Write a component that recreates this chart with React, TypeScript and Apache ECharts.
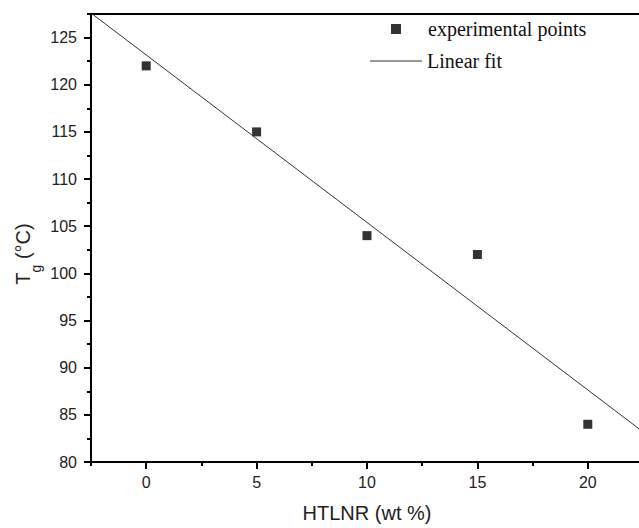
import React, { useEffect, useRef } from "react";
import * as echarts from "echarts";

const xMajorTicks = [0, 5, 10, 15, 20];
const xMinorTicks = [-2.5, 2.5, 7.5, 12.5, 17.5, 22.5];
const yMajorTicks = [80, 85, 90, 95, 100, 105, 110, 115, 120, 125];
const yMinorTicks = [82.5, 87.5, 92.5, 97.5, 102.5, 107.5, 112.5, 117.5, 122.5, 127.5];

const htlnr = [0, 5, 10, 15, 20];
const tg = [122, 115, 104, 102, 84];

const fitX = [-2.5, 22.5];
const fitY = [127.6, 83.2];

const sans = "Liberation Sans, Arial, sans-serif";
const serif = "Liberation Serif, Times New Roman, serif";

export default function App() {
  const ref = useRef<HTMLDivElement>(null);
  useEffect(() => {
    if (!ref.current) return;
    const chart = echarts.init(ref.current, undefined, { renderer: "svg" });
    const axisLine = { show: true, onZero: false, lineStyle: { color: "#000", width: 2 } };
    chart.setOption({
      animation: false,
      backgroundColor: "#fff",
      grid: {
        left: 91,
        top: 14,
        right: 2,
        bottom: 64,
        show: true,
        borderColor: "#000",
        borderWidth: 2,
        backgroundColor: "transparent",
      },
      legend: [
        {
          data: ["experimental points"],
          left: 391,
          top: 19,
          padding: 0,
          itemWidth: 10,
          itemHeight: 10,
          textStyle: { fontFamily: serif, fontSize: 20, color: "#111", padding: [0, 0, 0, 22] },
        },
        {
          data: [{ name: "Linear fit", icon: "rect" }],
          left: 370,
          top: 51,
          padding: 0,
          itemWidth: 52,
          itemHeight: 1,
          itemStyle: { color: "#333" },
          textStyle: { fontFamily: serif, fontSize: 20, color: "#111" },
        },
      ],
      xAxis: [
        {
          type: "value",
          min: -2.5,
          max: 22.5,
          position: "bottom",
          axisLine,
          splitLine: { show: false },
          axisTick: { show: true, length: 7, customValues: xMajorTicks, lineStyle: { color: "#000", width: 2 } },
          axisLabel: { customValues: xMajorTicks, margin: 12, fontSize: 16, fontFamily: sans, color: "#222" },
          name: "HTLNR (wt %)",
          nameLocation: "middle",
          nameGap: 41,
          nameTextStyle: { fontSize: 20, fontFamily: sans, color: "#222" },
        },
        {
          type: "value",
          min: -2.5,
          max: 22.5,
          position: "bottom",
          axisLine: { show: false, onZero: false },
          splitLine: { show: false },
          axisTick: { show: true, length: 4, customValues: xMinorTicks, lineStyle: { color: "#000", width: 2 } },
          axisLabel: { show: false },
        },
      ],
      yAxis: [
        {
          type: "value",
          min: 80,
          max: 127.5,
          position: "left",
          axisLine,
          splitLine: { show: false },
          axisTick: { show: true, length: 7, customValues: yMajorTicks, lineStyle: { color: "#000", width: 2 } },
          axisLabel: { customValues: yMajorTicks, margin: 14, fontSize: 16, fontFamily: sans, color: "#222" },
        },
        {
          type: "value",
          min: 80,
          max: 127.5,
          position: "left",
          axisLine: { show: false, onZero: false },
          splitLine: { show: false },
          axisTick: { show: true, length: 4, customValues: yMinorTicks, lineStyle: { color: "#000", width: 2 } },
          axisLabel: { show: false },
        },
      ],
      graphic: [
        {
          type: "text",
          x: 23,
          y: 254,
          rotation: Math.PI / 2,
          style: {
            text: "{a|T}{b|g}{a| (°C)}",
            align: "center",
            verticalAlign: "middle",
            fill: "#222",
            rich: {
              a: { fontSize: 20, fontFamily: sans, fill: "#222", lineHeight: 40, verticalAlign: "middle" },
              b: { fontSize: 14, fontFamily: sans, fill: "#222", lineHeight: 14, verticalAlign: "bottom" },
            },
          },
        },
      ],
      series: [
        {
          name: "experimental points",
          type: "scatter",
          symbol: "rect",
          symbolSize: 9,
          itemStyle: { color: "#000" },
          data: htlnr.map((x, i) => [x, tg[i]]),
        },
        {
          name: "Linear fit",
          type: "line",
          symbol: "none",
          itemStyle: { color: "#333" },
          lineStyle: { color: "#333", width: 1 },
          data: fitX.map((x, i) => [x, fitY[i]]),
        },
      ],
    });
    return () => chart.dispose();
  }, []);
  return (
    <div
      style={{ position: "absolute", left: 0, top: 0, width: 639, height: 528, overflow: "hidden", background: "#fff" }}
    >
      <div ref={ref} style={{ width: 645, height: 528 }} />
    </div>
  );
}
